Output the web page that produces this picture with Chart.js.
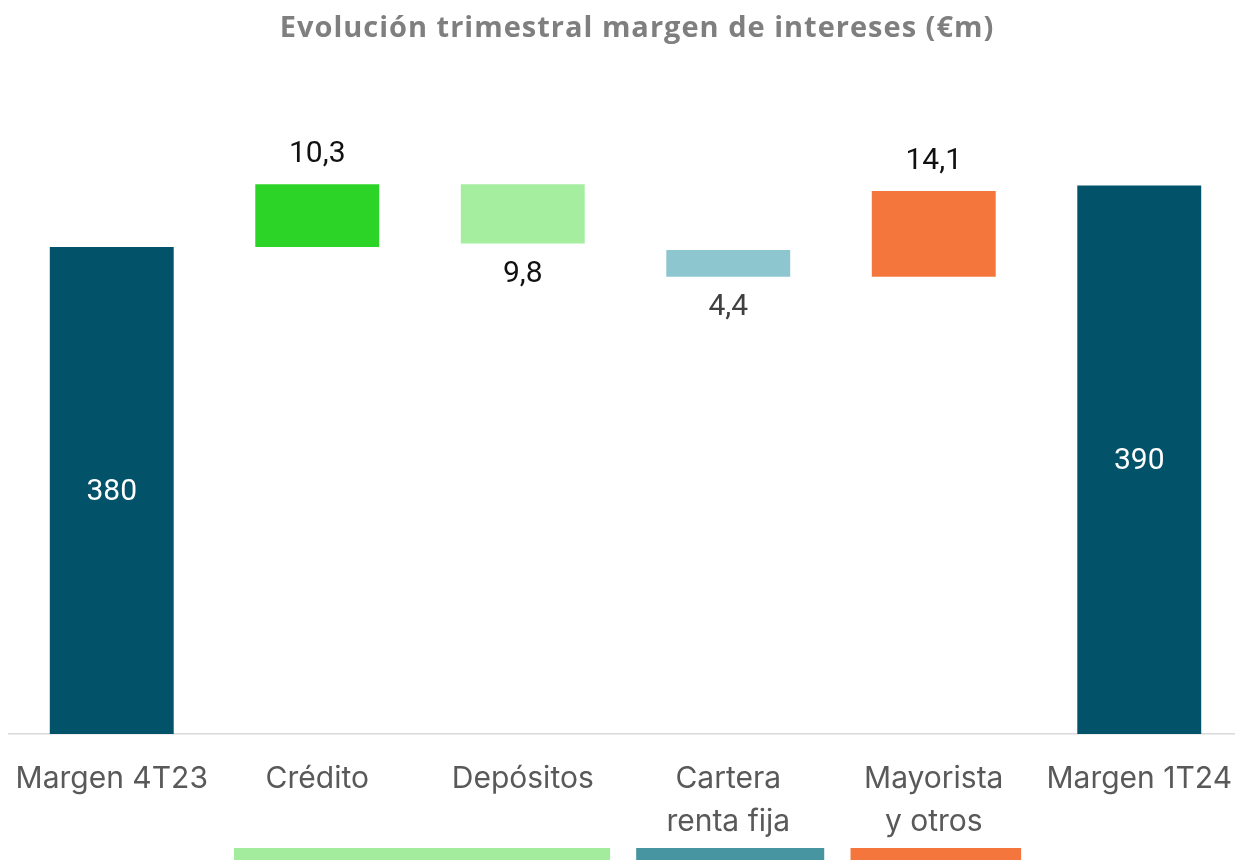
<!DOCTYPE html>
<html>
<head>
<meta charset="utf-8">
<script src="https://cdn.jsdelivr.net/npm/chart.js@4.4.1/dist/chart.umd.min.js"></script>
<style>
  html, body { margin: 0; padding: 0; background: #ffffff; overflow: hidden; }
  #wrap { width: 1235px; height: 860px; overflow: hidden; position: relative; }
  canvas { display: block; }
</style>
</head>
<body>
<div id="wrap"><canvas id="c" width="1243" height="860"></canvas></div>
<script>
// ---- Data ----
const chartTitle = 'Evolución trimestral margen de intereses (€m)';
const categories = [
  'Margen 4T23',
  'Crédito',
  'Depósitos',
  ['Cartera', 'renta fija'],
  ['Mayorista', 'y otros'],
  'Margen 1T24'
];
// floating bar ranges [start, end] in €m (axis starts at 300)
const barStart = [300, 380.0, 390.3, 379.5, 375.1, 300];
const barEnd   = [380, 390.3, 380.6, 375.1, 389.2, 390.1];
const valueLabels = ['380', '10,3', '9,8', '4,4', '14,1', '390'];
const barKinds = ['total', 'up', 'down', 'down', 'up', 'total'];
const barColors = ['#02536A', '#2CD427', '#A5EEA0', '#8DC6CF', '#F4763D', '#02536A'];
const labelColors = ['#FFFFFF', '#111111', '#111111', '#404040', '#111111', '#FFFFFF'];
// bottom group bands: first/last category index
const bandFrom = [1, 3, 4];
const bandTo = [2, 3, 4];
const bandColors = ['#A3EC9D', '#4795A0', '#F4763D'];

const rangeData = barStart.map((s, i) => [s, barEnd[i]]);

// band extents, as fraction of a category width around first/last centre
const bandStyle = { left: [0.405, 0.448, 0.405], right: [0.425, 0.467, 0.425] };

const titlePlugin = {
  id: 'titleText',
  afterDraw(chart) {
    const ctx = chart.ctx;
    ctx.save();
    ctx.font = "bold 29px 'Open Sans'";
    try { ctx.letterSpacing = '1px'; } catch (e) {}
    ctx.fillStyle = '#7F7F7F';
    ctx.textAlign = 'center';
    ctx.textBaseline = 'alphabetic';
    ctx.fillText(chartTitle, 637, 37);
    ctx.restore();
  }
};

const valueLabelPlugin = {
  id: 'valueLabels',
  afterDatasetsDraw(chart) {
    const ctx = chart.ctx;
    const meta = chart.getDatasetMeta(0);
    ctx.save();
    ctx.font = '30px Roboto';
    ctx.textAlign = 'center';
    ctx.textBaseline = 'middle';
    meta.data.forEach((el, i) => {
      const top = Math.min(el.y, el.base);
      const bottom = Math.max(el.y, el.base);
      let y;
      if (barKinds[i] === 'total') y = (top + bottom) / 2 + 2;
      else if (barKinds[i] === 'up') y = top - 30;
      else y = bottom + 31;
      ctx.fillStyle = labelColors[i];
      ctx.fillText(valueLabels[i], el.x, y);
    });
    ctx.restore();
  }
};

const bandPlugin = {
  id: 'bands',
  afterDraw(chart) {
    const ctx = chart.ctx;
    const x = chart.scales.x;
    const cw = (chart.chartArea.right - chart.chartArea.left) / categories.length;
    ctx.save();
    bandFrom.forEach((f, i) => {
      const left = x.getPixelForValue(f) - cw * bandStyle.left[i];
      const right = x.getPixelForValue(bandTo[i]) + cw * bandStyle.right[i];
      ctx.fillStyle = bandColors[i];
      ctx.fillRect(left, 848, right - left, chart.height - 848);
    });
    ctx.restore();
  }
};

function build() {
  new Chart(document.getElementById('c'), {
    type: 'bar',
    data: {
      labels: categories,
      datasets: [{
        data: rangeData,
        backgroundColor: barColors,
        borderWidth: 0,
        barPercentage: 0.603,
        categoryPercentage: 1.0
      }]
    },
    options: {
      responsive: false,
      animation: false,
      layout: { padding: { left: 9, right: 1, top: 125.3, bottom: 0 } },
      plugins: {
        legend: { display: false },
        tooltip: { enabled: false },
        title: { display: false }
      },
      scales: {
        x: {
          grid: { display: false, drawTicks: false },
          border: { display: true, color: '#D9D9D9', width: 1.5 },
          ticks: {
            color: '#595959',
            font: { family: "Inter, 'Open Sans', sans-serif", size: 30, lineHeight: 1.43 },
            padding: 24,
            maxRotation: 0,
            autoSkip: false
          },
          afterFit(scale) {
            scale.height = 126;
            scale.paddingLeft = 0;
            scale.paddingRight = 0;
          }
        },
        y: {
          display: false,
          min: 300,
          max: 400
        }
      }
    },
    plugins: [titlePlugin, valueLabelPlugin, bandPlugin]
  });
}

Promise.all([
  document.fonts.load("bold 29px 'Open Sans'"),
  document.fonts.load('30px Inter'),
  document.fonts.load('30px Roboto')
]).then(build, build);
</script>
</body>
</html>
